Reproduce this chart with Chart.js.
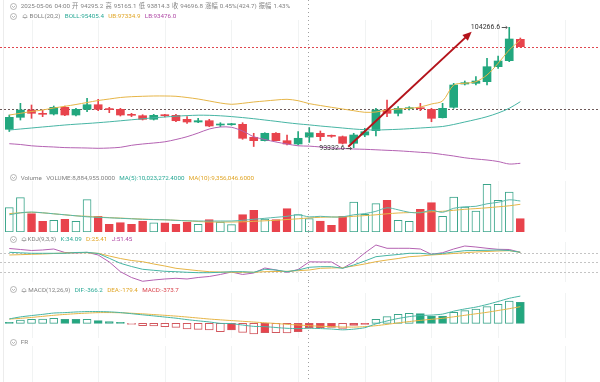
<!DOCTYPE html>
<html><head><meta charset="utf-8">
<script src="https://cdn.jsdelivr.net/npm/chart.js@4.4.1/dist/chart.umd.min.js"></script>
<style>
html,body{margin:0;padding:0;background:#fff}
#wrap{position:relative;width:600px;height:382px;overflow:hidden;background:#fff}
canvas{position:absolute;left:0}
.h{position:absolute;font-family:Roboto,"Noto Sans CJK SC",sans-serif;font-size:6.25px;line-height:8px;color:#828282;white-space:nowrap;word-spacing:0.6px}
.ic{position:absolute;left:10px}
.bl{position:absolute;left:22px}
.t{color:#2aa996}.y{color:#e0a526}.p{color:#b04aa6}.r{color:#d9434b}
#lb{position:absolute;left:3px;top:0;width:1px;height:382px;background:#ececec}
</style></head>
<body><div id="wrap">
<div id="lb"></div>
<canvas id="cMain" width="600" height="170" style="top:0"></canvas>
<canvas id="cVol" width="600" height="62" style="top:170px"></canvas>
<canvas id="cKdj" width="600" height="50" style="top:232px"></canvas>
<canvas id="cMacd" width="600" height="56" style="top:282px"></canvas>
<canvas id="cFr" width="600" height="44" style="top:338px"></canvas>

<svg class="ic" style="top:2.5px" width="7" height="7" viewBox="0 0 7 7"><circle cx="3.5" cy="3.5" r="3" fill="none" stroke="#999" stroke-width="0.7"/><path d="M2 3L3.5 4.5L5 3" fill="none" stroke="#999" stroke-width="0.7"/></svg>
<div class="h" style="left:20.7px;top:2px" id="hdr1"></div>

<svg class="ic" style="top:12.5px" width="7" height="7" viewBox="0 0 7 7"><circle cx="3.5" cy="3.5" r="3" fill="none" stroke="#999" stroke-width="0.7"/><path d="M2 3L3.5 4.5L5 3" fill="none" stroke="#999" stroke-width="0.7"/></svg>
<svg class="bl" style="top:13px" width="6" height="6" viewBox="0 0 6 6"><path d="M1.2 4.5V2.6Q3 0.2 4.8 2.6V4.5ZM0.6 4.5H5.4M2.4 5.3H3.6" fill="none" stroke="#999" stroke-width="0.6"/></svg>
<div class="h" style="left:29.5px;top:12px">BOLL(20,2)&nbsp; <span class="t">BOLL:95405.4</span>&nbsp; <span class="y">UB:97334.9</span>&nbsp; <span class="p">LB:93476.0</span></div>

<svg class="ic" style="top:174px" width="7" height="7" viewBox="0 0 7 7"><circle cx="3.5" cy="3.5" r="3" fill="none" stroke="#999" stroke-width="0.7"/><path d="M2 3L3.5 4.5L5 3" fill="none" stroke="#999" stroke-width="0.7"/></svg>
<div class="h" style="left:20.7px;top:173.5px">Volume&nbsp; VOLUME:8,884,955.0000&nbsp; <span class="t">MA(5):10,023,272.4000</span>&nbsp; <span class="y">MA(10):9,356,046.6000</span></div>

<svg class="ic" style="top:235.5px" width="7" height="7" viewBox="0 0 7 7"><circle cx="3.5" cy="3.5" r="3" fill="none" stroke="#999" stroke-width="0.7"/><path d="M2 3L3.5 4.5L5 3" fill="none" stroke="#999" stroke-width="0.7"/></svg>
<svg class="bl" style="top:236px;left:21px" width="6" height="6" viewBox="0 0 6 6"><path d="M1.2 4.5V2.6Q3 0.2 4.8 2.6V4.5ZM0.6 4.5H5.4M2.4 5.3H3.6" fill="none" stroke="#999" stroke-width="0.6"/></svg>
<div class="h" style="left:27.5px;top:235px">KDJ(9,3,3)&nbsp; <span class="t">K:34.09</span>&nbsp; <span class="y">D:25.41</span>&nbsp; <span class="p">J:51.45</span></div>

<svg class="ic" style="top:286px" width="7" height="7" viewBox="0 0 7 7"><circle cx="3.5" cy="3.5" r="3" fill="none" stroke="#999" stroke-width="0.7"/><path d="M2 3L3.5 4.5L5 3" fill="none" stroke="#999" stroke-width="0.7"/></svg>
<svg class="bl" style="top:286.5px;left:21px" width="6" height="6" viewBox="0 0 6 6"><path d="M1.2 4.5V2.6Q3 0.2 4.8 2.6V4.5ZM0.6 4.5H5.4M2.4 5.3H3.6" fill="none" stroke="#999" stroke-width="0.6"/></svg>
<div class="h" style="left:28.3px;top:285.5px">MACD(12,26,9)&nbsp; <span class="t">DIF:-366.2</span>&nbsp; <span class="y">DEA:-179.4</span>&nbsp; <span class="r">MACD:-373.7</span></div>

<svg class="ic" style="top:338.5px" width="7" height="7" viewBox="0 0 7 7"><circle cx="3.5" cy="3.5" r="3" fill="none" stroke="#999" stroke-width="0.7"/><path d="M2 3L3.5 4.5L5 3" fill="none" stroke="#999" stroke-width="0.7"/></svg>
<div class="h" style="left:20.7px;top:338px">FR</div>
</div>
<script>
// ---------- data ----------
const times = ["2025-05-01 16:00","2025-05-01 20:00","2025-05-02 00:00","2025-05-02 04:00","2025-05-02 08:00","2025-05-02 12:00","2025-05-02 16:00","2025-05-02 20:00","2025-05-03 00:00","2025-05-03 04:00","2025-05-03 08:00","2025-05-03 12:00","2025-05-03 16:00","2025-05-03 20:00","2025-05-04 00:00","2025-05-04 04:00","2025-05-04 08:00","2025-05-04 12:00","2025-05-04 16:00","2025-05-04 20:00","2025-05-05 00:00","2025-05-05 04:00","2025-05-05 08:00","2025-05-05 12:00","2025-05-05 16:00","2025-05-05 20:00","2025-05-06 00:00","2025-05-06 04:00","2025-05-06 08:00","2025-05-06 12:00","2025-05-06 16:00","2025-05-06 20:00","2025-05-07 00:00","2025-05-07 04:00","2025-05-07 08:00","2025-05-07 12:00","2025-05-07 16:00","2025-05-07 20:00","2025-05-08 00:00","2025-05-08 04:00","2025-05-08 08:00","2025-05-08 12:00","2025-05-08 16:00","2025-05-08 20:00","2025-05-09 00:00","2025-05-09 04:00","2025-05-09 08:00"];
const open  = [95005,96094,96757,96412,96394,97002,96303,96820,97238,96848,96820,96330,96240,95913,96303,96276,95913,95668,95785,95395,95422,95459,94279,93970,94642,93970,93670,94295.2,94642,94415,94333,93733,94487,94878,96757,96457,96875,96939,96820,96058,97002,99118,99180,99327,100689,101234,103177];
const high  = [96303,97365,97211,96757,97120,97120,96911,97820,97729,97002,96911,96457,96330,96367,96367,96367,96149,96003,95913,95604,95549,95604,94642,94696,94696,94487,94787,95165.1,94850,94487,94397,94642,95096,96911,97665,97057,97057,97365,96911,97365,99180,99390,99781,101452,101660,104266.6,103295];
const low   = [94805,95849,96003,96149,96303,96240,96212,96603,96694,96512,96212,96149,95849,95849,96122,95694,95549,95604,95240,95240,95368,94097,93443,93943,93943,93579,93579,93814.3,93970,94279,93670,93332.6,94333,94397,96149,96212,96757,96694,95694,96031,96911,99027,99027,99027,100544,101143,102477];
const close = [96094,96757,96457,96367,97002,96303,96820,97238,96820,96793,96303,96276,95913,96276,96240,95785,95668,95785,95304,95459,95486,94188,93970,94642,93970,93670,94188,94696.8,94333,94370,93733,94487,94787,96757,96457,96911,96939,96875,96003,96911,99027,99236,99390,100689,101207,103204,102505];
const bollUp  = [96303,96457,96621,96757,96939,97093,97257,97438,97620,97756,97893,97965,98002,98029,98029,98002,97893,97756,97575,97393,97275,97366,97484,97575,97665,97729,97602,97334.9,97166,97002,96848,96694,96549,96576,96757,96848,96911,97030,97302,97575,99027,99182,99327,99935,100998,102205,103113];
const bollMid = [94941,95032,95123,95214,95304,95395,95468,95532,95604,95686,95777,95868,95958,96049,96122,96195,96249,96285,96276,96231,96158,96068,95967,95849,95731,95604,95495,95405.4,95304,95214,95123,95032,94968,94941,94968,95005,95059,95123,95186,95259,95441,95668,95895,96149,96485,96912,97511];
const bollLow = [93697,93624,93506,93443,93398,93343,93325,93307,93280,93307,93370,93552,93670,93761,93870,94079,94333,94669,95032,95214,95186,94850,94333,94079,93852,93670,93506,93476,93398,93307,93262,93216,93189,93144,93098,93053,92989,92917,92853,92717,92581,92418,92308,92217,92081,91854,91918];
const volume = [16.2e6,22.8e6,12.2e6,7.1e6,7.8e6,8.4e6,7.1e6,21.5e6,10.4e6,5.1e6,6.2e6,5.1e6,7.3e6,6.0e6,6.0e6,5.1e6,6.6e6,5.1e6,8.2e6,6.6e6,4.9e6,11.5e6,14.4e6,8.6e6,8.2e6,15.5e6,11.5e6,8884955,7.3e6,4.4e6,10.4e6,19.9e6,11.7e6,18.8e6,21.0e6,7.8e6,7.1e6,15.0e6,19.5e6,10.4e6,23.2e6,16.6e6,13.9e6,31.6e6,21.0e6,26.5e6,8.9e6];
const volMa5  = [11.40e6,12.73e6,13.26e6,12.73e6,12.07e6,11.40e6,10.74e6,10.08e6,9.75e6,9.41e6,9.08e6,8.75e6,8.42e6,8.22e6,8.09e6,7.76e6,7.43e6,7.29e6,7.29e6,7.29e6,7.29e6,7.76e6,8.42e6,9.08e6,9.75e6,10.41e6,11.40e6,10023272.4,10.41e6,9.95e6,10.08e6,11.40e6,12.20e6,13.72e6,16.04e6,14.72e6,13.06e6,12.73e6,14.39e6,13.06e6,15.71e6,16.71e6,17.04e6,18.70e6,19.69e6,21.35e6,20.55e6];
const volMa10 = [12.20e6,12.73e6,13.06e6,12.73e6,12.07e6,11.40e6,10.74e6,10.41e6,9.95e6,9.55e6,9.22e6,8.88e6,8.55e6,8.29e6,8.09e6,7.76e6,7.43e6,6.96e6,6.63e6,6.63e6,6.63e6,6.76e6,7.09e6,7.43e6,7.76e6,8.29e6,8.75e6,9356046.6,9.75e6,9.95e6,9.95e6,10.41e6,10.87e6,11.40e6,12.07e6,12.60e6,12.86e6,13.06e6,13.39e6,13.72e6,14.39e6,15.05e6,15.51e6,16.04e6,16.71e6,17.37e6,18.37e6];
const kdjK = [81.9,80.3,78.7,78.7,78.7,78.7,81.3,81.9,78.1,62.8,46.8,36.6,27.7,24.5,21.3,20.0,18.1,16.8,16.8,18.1,20.0,20.0,18.1,27.7,25.4,20.0,25.4,34.09,36.0,36.0,30.8,41.4,54.1,67.9,71.7,74.9,78.7,78.7,75.5,78.1,82.9,87.0,87.7,88.3,89.3,87.7,81.9];
const kdjD = [73.3,74.3,75.5,76.5,78.1,79.7,80.6,80.6,78.7,70.1,62.1,55.7,51.9,44.6,38.2,30.8,27.0,23.2,20.0,19.0,18.1,18.1,18.1,20.0,20.6,21.3,23.2,25.41,30.8,31.8,32.8,38.2,44.6,51.9,57.3,62.1,67.9,70.1,73.3,75.5,78.1,80.6,82.9,84.5,86.1,87.0,81.9];
const kdjJ = [94.1,90.9,87.7,89.3,92.5,81.3,79.7,81.9,73.3,51.0,20.0,1.5,-10.6,-6.5,-3.3,-1.1,-3.3,1.5,4.7,11.1,19.0,11.1,15.8,31.8,25.4,18.1,27.0,51.45,51.0,51.0,30.8,51.0,79.7,105.2,94.7,94.7,94.7,92.5,75.5,80.6,92.5,102.0,98.8,94.7,91.5,90.9,81.9];
const macdDif  = [330,480,580,670,770,800,850,880,880,860,805,720,635,555,470,385,275,185,100,-5,-20,-130,-230,-250,-315,-375,-400,-366.2,-395,-430,-490,-440,-330,-40,175,360,500,585,615,690,910,1075,1215,1410,1635,1875,2040];
const macdDea  = [315,370,440,520,600,665,720,765,800,805,790,755,710,655,600,540,470,395,320,260,205,150,95,40,-15,-75,-127,-179.4,-220,-250,-278,-285,-250,-180,-80,30,130,220,300,375,487,600,712,825,960,1095,1245];
const macdHist = [50,250,300,310,375,300,290,300,200,125,50,-70,-175,-200,-250,-300,-425,-450,-500,-625,-500,-675,-800,-700,-710,-720,-625,-373.7,-325,-300,-375,-150,-60,300,500,675,750,725,550,540,825,950,1075,1250,1425,1675,1575];
const kdjLevels = [80, 50, 20];
const markLevels = [96821];              // dotted reference line in the price pane
const trendArrow = [[30.51, 93425], [41.62, 103867]];  // [index, price] start -> tip
const crosshairIdx = 27;                 // 2025-05-06 04:00

// header text for the crosshair candle
const ci = crosshairIdx;
document.getElementById('hdr1').textContent =
  times[ci] + ' 开 ' + open[ci] + ' 高 ' + high[ci] + ' 低 ' + low[ci] + ' 收 ' + close[ci] +
  ' 涨幅 0.45%(424.7) 振幅 1.43%';

// ---------- styling ----------
const UP = '#22a77e', UPLINE = '#3aa58a', DOWN = '#e8434c';
const TEAL = '#47b5a4', YEL = '#e6b547', PUR = '#b462b2';
const X_MIN = -0.837, X_MAX = 53.17;
const idx = open.map((_, i) => i);
const pts = a => a.map((v, i) => ({x: i, y: v}));
const isUp = i => close[i] >= open[i];

const gridPlugin = {id: 'grid', beforeDatasetsDraw(c) {
  const {ctx, chartArea: a} = c, xs = c.scales.x;
  ctx.save(); ctx.strokeStyle = '#f1f3f3'; ctx.lineWidth = 1;
  for (let v = 2; v <= X_MAX; v += 6) {
    const x = Math.round(xs.getPixelForValue(v)) + 0.5;
    ctx.beginPath(); ctx.moveTo(x, a.top); ctx.lineTo(x, a.bottom); ctx.stroke();
  }
  ctx.restore();
}};
const crossPlugin = {id: 'cross', afterDraw(c) {
  const {ctx} = c;
  const x = Math.floor(c.scales.x.getPixelForValue(crosshairIdx)) - 0.5;
  ctx.save(); ctx.strokeStyle = '#a0a0a0'; ctx.lineWidth = 1; ctx.setLineDash([1, 3]);
  ctx.beginPath(); ctx.moveTo(x, 0); ctx.lineTo(x, c.height); ctx.stroke(); ctx.restore();
}};
function hline(c, val, color, dash) {
  const {ctx} = c, y = Math.round(c.scales.y.getPixelForValue(val)) + 0.5;
  ctx.save(); ctx.strokeStyle = color; ctx.lineWidth = 1; ctx.setLineDash(dash);
  ctx.beginPath(); ctx.moveTo(0, y); ctx.lineTo(c.width, y); ctx.stroke(); ctx.restore();
}
const mainMarks = {id: 'mainMarks',
  beforeDatasetsDraw(c) {
    markLevels.forEach(v => hline(c, v, '#6e5a5a', [2, 2]));
    hline(c, close[close.length - 1], '#e0474f', [2, 2]);
  },
  afterDatasetsDraw(c) {
    const {ctx} = c, xs = c.scales.x, ys = c.scales.y;
    const x0 = xs.getPixelForValue(trendArrow[0][0]), y0 = ys.getPixelForValue(trendArrow[0][1]);
    const x1 = xs.getPixelForValue(trendArrow[1][0]), y1 = ys.getPixelForValue(trendArrow[1][1]);
    const ang = Math.atan2(y1 - y0, x1 - x0), L = 9, W = 4;
    ctx.save(); ctx.strokeStyle = '#b4141c'; ctx.fillStyle = '#b4141c'; ctx.lineWidth = 2;
    ctx.beginPath(); ctx.moveTo(x0, y0);
    ctx.lineTo(x1 - Math.cos(ang) * L * 0.8, y1 - Math.sin(ang) * L * 0.8); ctx.stroke();
    ctx.beginPath(); ctx.moveTo(x1, y1);
    ctx.lineTo(x1 - Math.cos(ang) * L - Math.sin(ang) * W, y1 - Math.sin(ang) * L + Math.cos(ang) * W);
    ctx.lineTo(x1 - Math.cos(ang) * L + Math.sin(ang) * W, y1 - Math.sin(ang) * L - Math.cos(ang) * W);
    ctx.closePath(); ctx.fill();
    const hi = high.indexOf(Math.max(...high)), lo = low.indexOf(Math.min(...low));
    ctx.font = '7px Roboto'; ctx.fillStyle = '#333'; ctx.textAlign = 'right'; ctx.textBaseline = 'middle';
    ctx.strokeStyle = '#555'; ctx.lineWidth = 1;
    [[hi, high[hi]], [lo, low[lo]]].forEach(([i, v]) => {
      const px = xs.getPixelForValue(i), py = Math.round(ys.getPixelForValue(v)) + 0.5;
      ctx.fillText(String(v), px - 9, py);
      ctx.beginPath(); ctx.moveTo(px - 7.5, py); ctx.lineTo(px - 2, py); ctx.stroke();
      ctx.beginPath(); ctx.moveTo(px - 3.5, py - 1.3); ctx.lineTo(px - 2, py); ctx.lineTo(px - 3.5, py + 1.3); ctx.stroke();
    });
    ctx.restore();
  }};
const kdjMarks = {id: 'kdjMarks', beforeDatasetsDraw(c) {
  kdjLevels.forEach(v => hline(c, v, '#c4c4c4', [2, 2]));
}};

function opts(ymin, ymax, padTop) {
  return {
    responsive: false, animation: false, devicePixelRatio: 1, events: [],
    layout: {padding: {top: padTop, left: 0, right: 0, bottom: 0}},
    plugins: {legend: {display: false}, tooltip: {enabled: false}},
    scales: {
      x: {type: 'linear', min: X_MIN, max: X_MAX, offset: false, display: false},
      y: {min: ymin, max: ymax, display: false}
    }
  };
}
const line = (data, color, tension = 0.3) => ({type: 'line', data: pts(data), borderColor: color,
  borderWidth: 1, pointRadius: 0, tension, order: 0, fill: false});

new Chart(document.getElementById('cMain'), {
  type: 'bar',
  data: {datasets: [
    line(bollUp, YEL), line(bollMid, TEAL), line(bollLow, PUR),
    {type: 'bar', data: idx.map(i => ({x: i, y: [low[i], high[i]]})), grouped: false, order: 2,
     backgroundColor: idx.map(i => isUp(i) ? UP : DOWN), barThickness: 1, minBarLength: 1},
    {type: 'bar', data: idx.map(i => ({x: i, y: [open[i], close[i]]})), grouped: false, order: 1,
     backgroundColor: idx.map(i => isUp(i) ? UP : DOWN), barThickness: 8, minBarLength: 1}
  ]},
  options: opts(91309.4, 104929.4, 20),
  plugins: [gridPlugin, mainMarks, crossPlugin]
});

new Chart(document.getElementById('cVol'), {
  type: 'bar',
  data: {datasets: [
    line(volMa5, '#5ab8aa'), line(volMa10, YEL),
    {type: 'bar', data: pts(volume), grouped: false, order: 1, barThickness: 8,
     backgroundColor: idx.map(i => isUp(i) ? '#ffffff' : DOWN),
     borderColor: idx.map(i => isUp(i) ? UPLINE : DOWN),
     borderWidth: 1, borderSkipped: false}
  ]},
  options: opts(0, 33.82e6, 11),
  plugins: [gridPlugin, crossPlugin]
});

new Chart(document.getElementById('cKdj'), {
  type: 'line',
  data: {datasets: [line(kdjK, TEAL, 0), line(kdjD, YEL, 0), line(kdjJ, PUR, 0)]},
  options: opts(-12.9, 114.8, 10),
  plugins: [gridPlugin, kdjMarks, crossPlugin]
});

const hollow = macdHist.map((v, i) => i > 0 &&
  (Math.sign(v) !== Math.sign(macdHist[i - 1]) || Math.abs(v) > Math.abs(macdHist[i - 1])));
new Chart(document.getElementById('cMacd'), {
  type: 'bar',
  data: {datasets: [
    line(macdDif, TEAL, 0.2), line(macdDea, YEL, 0.2),
    {type: 'bar', data: pts(macdHist), grouped: false, order: 1, barThickness: 8, minBarLength: 1,
     backgroundColor: macdHist.map((v, i) => hollow[i] ? '#ffffff' : (v >= 0 ? UP : DOWN)),
     borderColor: macdHist.map(v => v >= 0 ? UPLINE : '#d2575e'),
     borderWidth: 1, borderSkipped: false}
  ]},
  options: opts(-1102, 2272, 11),
  plugins: [gridPlugin, crossPlugin]
});

new Chart(document.getElementById('cFr'), {
  type: 'line', data: {datasets: [{data: []}]},
  options: opts(0, 1, 8),
  plugins: [gridPlugin, crossPlugin]
});
</script>
</body></html>
